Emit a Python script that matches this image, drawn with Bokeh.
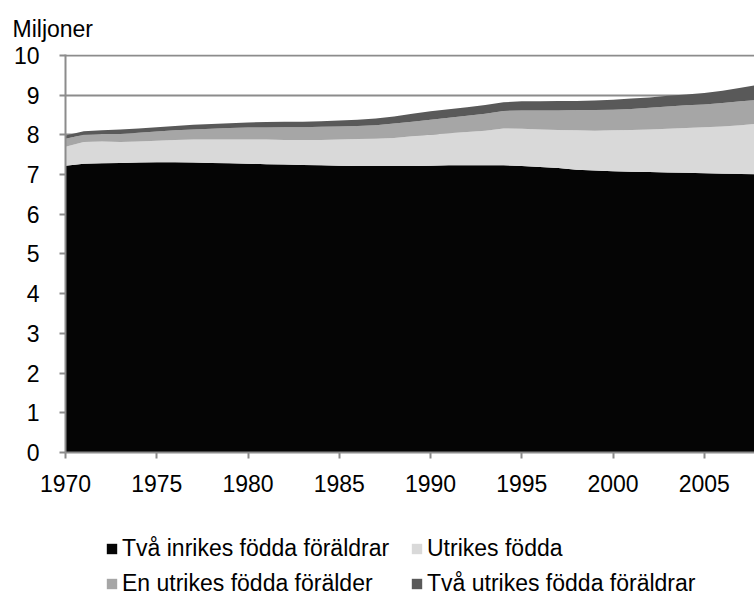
from bokeh.plotting import figure
from bokeh.layouts import column
from bokeh.models import Range1d, Legend, LegendItem, FixedTicker, Title
from bokeh.embed import file_html
from bokeh.resources import INLINE

years = list(range(1970, 2009))
tva_inrikes = [7.22, 7.27, 7.28, 7.29, 7.30, 7.31, 7.31, 7.30, 7.29, 7.28,
               7.27, 7.26, 7.25, 7.24, 7.23, 7.22, 7.21, 7.21, 7.21, 7.21,
               7.22, 7.23, 7.23, 7.23, 7.23, 7.21, 7.19, 7.16, 7.12, 7.10,
               7.08, 7.07, 7.06, 7.05, 7.04, 7.03, 7.02, 7.01, 7.00]
utrikes = [0.48, 0.55, 0.55, 0.53, 0.53, 0.54, 0.56, 0.58, 0.59, 0.60,
           0.61, 0.62, 0.62, 0.63, 0.64, 0.66, 0.68, 0.69, 0.71, 0.75,
           0.78, 0.81, 0.84, 0.87, 0.93, 0.94, 0.94, 0.96, 0.99, 1.00,
           1.03, 1.05, 1.07, 1.10, 1.13, 1.16, 1.19, 1.23, 1.28]
en_utrikes = [0.20, 0.18, 0.19, 0.20, 0.22, 0.23, 0.24, 0.25, 0.27, 0.29,
              0.30, 0.30, 0.32, 0.32, 0.33, 0.33, 0.33, 0.34, 0.36, 0.37,
              0.38, 0.39, 0.41, 0.43, 0.44, 0.46, 0.48, 0.49, 0.51, 0.52,
              0.52, 0.53, 0.55, 0.56, 0.57, 0.57, 0.59, 0.60, 0.60]
tva_utrikes = [0.08, 0.09, 0.09, 0.11, 0.11, 0.11, 0.11, 0.12, 0.12, 0.12,
               0.13, 0.14, 0.14, 0.14, 0.14, 0.15, 0.16, 0.17, 0.18, 0.20,
               0.21, 0.21, 0.21, 0.22, 0.22, 0.23, 0.23, 0.24, 0.23, 0.24,
               0.25, 0.26, 0.26, 0.27, 0.27, 0.29, 0.31, 0.34, 0.38]

series_names = ["Två inrikes födda föräldrar", "Utrikes födda",
                "En utrikes födda förälder", "Två utrikes födda föräldrar"]
colors = ["#050505", "#d9d9d9", "#a6a6a6", "#595959"]
x_ticks = [1970, 1975, 1980, 1985, 1990, 1995, 2000, 2005]
y_ticks = list(range(0, 11))

FONT = "Liberation Sans"
GRAY = "#8c8c8c"
FS = "23px"

data = dict(x=years, a=tva_inrikes, b=utrikes, c=en_utrikes, d=tva_utrikes)

p = figure(width=754, height=504,
           x_range=Range1d(1970, 2007.75), y_range=Range1d(0, 10.02),
           output_backend="svg", toolbar_location=None,
           min_border_left=65, min_border_right=0, min_border_top=53,
           min_border_bottom=52)

p.varea_stack(["a", "b", "c", "d"], x="x", color=colors, source=data)

p.outline_line_color = None
p.xgrid.grid_line_color = None
p.ygrid.grid_line_color = GRAY
p.ygrid.grid_line_width = 2
p.ygrid.ticker = FixedTicker(ticks=y_ticks)

p.yaxis.ticker = FixedTicker(ticks=y_ticks)
p.xaxis.ticker = FixedTicker(ticks=x_ticks)
for ax in (p.xaxis[0], p.yaxis[0]):
    ax.axis_line_color = GRAY
    ax.axis_line_width = 2
    ax.major_tick_line_color = GRAY
    ax.major_tick_line_width = 2
    ax.major_tick_in = 0
    ax.major_tick_out = 6
    ax.minor_tick_line_color = None
    ax.major_label_text_font = FONT
    ax.major_label_text_font_size = FS
    ax.major_label_text_color = "#000000"
p.yaxis.major_label_standoff = 20
p.xaxis.major_label_standoff = 16

p.title = Title(text="Miljoner", align="left", offset=-53, standoff=26,
                text_font=FONT, text_font_size=FS,
                text_font_style="normal", text_color="#000000")

# legend lives in its own strip below the chart (frame aligned with the chart's)
lg = figure(width=754, height=95, x_range=Range1d(0, 1), y_range=Range1d(0, 1),
            x_axis_type=None, y_axis_type=None,
            output_backend="svg", toolbar_location=None,
            min_border=0)
lg.outline_line_color = None
lg.grid.visible = False
# same stacked series, out of this strip's view: only used as legend swatches
swatches = lg.varea_stack(["a", "b", "c", "d"], x="x", color=colors, source=data)

legend = Legend(items=[LegendItem(label=n, renderers=[r]) for n, r in zip(series_names, swatches)],
                orientation="horizontal", ncols=2,
                label_text_font=FONT, label_text_font_size=FS,
                label_text_color="#000000",
                glyph_width=13, glyph_height=13, spacing=8,
                label_width=280, label_height=27,
                label_standoff=4, border_line_color=None,
                background_fill_alpha=0, padding=0, margin=0,
                location=(40, 2))
lg.add_layout(legend)

layout = column(p, lg, spacing=0)
open("out.html", "w").write(file_html(layout, INLINE))
